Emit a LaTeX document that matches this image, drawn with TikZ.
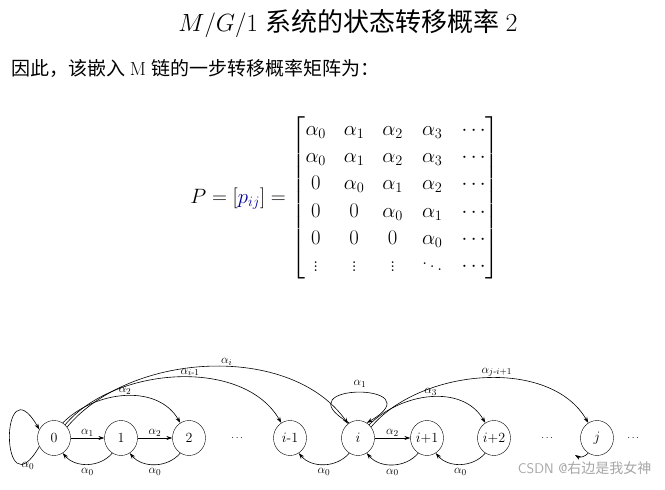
\documentclass[tikz,border=0pt]{standalone}
\usepackage{fontspec}
\usepackage{amsmath}
\newfontfamily\cjk{Noto Sans CJK SC}
\usetikzlibrary{arrows.meta,shapes.geometric}
\begin{document}
\begin{tikzpicture}[x=1pt,y=-1pt,
  st/.style={draw,ellipse,minimum width=33pt,minimum height=35pt,inner sep=0pt,font=\fontsize{14}{14}\selectfont},
  ar/.style={-{Stealth[length=6pt,width=4pt]},line width=0.6pt},
  lb/.style={font=\fontsize{13}{13}\selectfont,inner sep=1pt}]
\useasboundingbox (0,0) rectangle (665,490);
\node (title) at (348,24) {\fontsize{26}{26}\selectfont $M/G/1$ \cjk 系统的状态转移概率\ \rmfamily 2};
\node[anchor=west] (sub) at (8,68) {\fontsize{19}{19}\selectfont\cjk 因此，该嵌入 \rmfamily M \cjk 链的一步转移概率矩阵为：};
\node (mat) at (345,198) {\fontsize{21}{26}\selectfont\setlength{\arraycolsep}{9pt}\renewcommand{\arraystretch}{1.05}$P=[\textcolor{blue!60!black}{p_{ij}}]=\begin{bmatrix}
\alpha_0&\alpha_1&\alpha_2&\alpha_3&\cdots\\
\alpha_0&\alpha_1&\alpha_2&\alpha_3&\cdots\\
0&\alpha_0&\alpha_1&\alpha_2&\cdots\\
0&0&\alpha_0&\alpha_1&\cdots\\
0&0&0&\alpha_0&\cdots\\
\vdots&\vdots&\vdots&\ddots&\cdots
\end{bmatrix}$};
\node[st] (n0) at (54,438) {0};
\node[st] (n1) at (121,438) {1};
\node[st] (n2) at (189,438) {2};
\node (d1) at (238,438) {$\cdots$};
\node[st] (nim) at (290,438) {$i$-1};
\node[st] (ni) at (358,438) {$i$};
\node[st] (nip) at (427,438) {$i$+1};
\node[st] (nipp) at (494,438) {$i$+2};
\node (d2) at (548,438) {$\cdots$};
\node[st] (nj) at (597,438) {$j$};
\node (d3) at (634,438) {$\cdots$};
\coordinate (jend) at (575,455);
% self loops
\draw[ar] (n0.210) to[out=240,in=120,looseness=12] (n0.150);
\node[lb] (l00) at (28,466) {$\alpha_0$};
\draw[ar] (ni.120) to[out=150,in=30,looseness=12] (ni.60);
\node[lb] (l11) at (360,384) {$\alpha_1$};
% forward
\draw[ar] (n0) -- node[lb,above]{$\alpha_1$} (n1);
\draw[ar] (n1) -- node[lb,above]{$\alpha_2$} (n2);
\draw[ar] (ni) -- node[lb,above]{$\alpha_2$} (nip);
% back
\draw[ar] (n1.-120) to[bend left=50] node[lb,below=3pt]{$\alpha_0$} (n0.-60);
\draw[ar] (n2.-120) to[bend left=50] node[lb,below=3pt]{$\alpha_0$} (n1.-60);
\draw[ar] (ni.-120) to[bend left=50] node[lb,below=3pt]{$\alpha_0$} (nim.-60);
\draw[ar] (nip.-120) to[bend left=50] node[lb,below=3pt]{$\alpha_0$} (ni.-60);
\draw[ar] (nipp.-120) to[bend left=50] node[lb,below=3pt]{$\alpha_0$} (nip.-60);
\draw[ar] (nj.-120) to[bend left=40] (jend);
% long arcs
\draw[ar] (n0.60) to[out=45,in=120] node[lb,above]{$\alpha_2$} (n2.120);
\draw[ar] (n0.50) to[out=50,in=120,looseness=0.9] node[lb,above,pos=0.55]{$\alpha_{i\text{-}1}$} (nim.120);
\draw[ar] (n0.40) to[out=50,in=125,looseness=0.9] node[lb,above,pos=0.55]{$\alpha_i$} (ni.125);
\draw[ar] (ni.50) to[out=45,in=120] node[lb,above]{$\alpha_3$} (nipp.120);
\draw[ar] (ni.40) to[out=50,in=120,looseness=0.9] node[lb,above,pos=0.55]{$\alpha_{j\text{-}i\text{+}1}$} (nj.120);
\node[text=gray!70,anchor=east] (wm) at (655,468) {\fontsize{14}{14}\selectfont\sffamily CSDN @\cjk 右边是我女神};
\end{tikzpicture}
\end{document}
